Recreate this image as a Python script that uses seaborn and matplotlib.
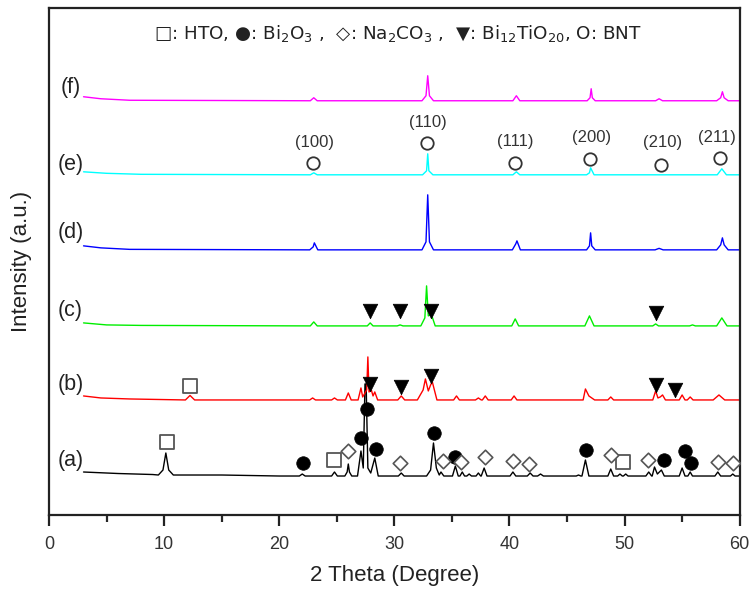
import matplotlib
matplotlib.use("Agg")
import matplotlib.pyplot as plt
import seaborn as sns
import pandas as pd

sns.set_style("ticks")
plt.rcParams['font.family'] = ['Liberation Sans', 'DejaVu Sans']
plt.rcParams['mathtext.fontset'] = 'custom'
plt.rcParams['mathtext.rm'] = 'Liberation Sans'

# ---------------- data (2 theta, relative intensity) ----------------
x_a = [3.0, 6.0, 9.0,
       9.5, 9.9, 10.15, 10.4, 10.8,
       15.0, 20.0,
       21.75, 22.0, 22.25,
       24.55, 24.8, 25.05,
       25.7, 25.9, 26.0, 26.1, 26.3,
       26.8, 27.1, 27.3, 27.45, 27.55, 27.7, 27.95, 28.3, 28.6,
       30.35, 30.6, 30.85,
       32.8, 33.15, 33.4, 33.65, 33.9, 34.05, 34.3,
       35.05, 35.3, 35.55,
       35.7, 35.9, 36.1,
       36.3, 36.5, 36.7,
       37.1, 37.3, 37.5,
       37.55, 37.8, 38.05,
       40.05, 40.3, 40.55,
       41.55, 41.8, 42.05,
       42.45, 42.7, 42.95,
       45.8, 46.0, 46.2,
       46.3, 46.6, 46.9,
       48.55, 48.8, 49.05,
       49.4, 49.6, 49.8,
       49.9, 50.1, 50.3,
       51.85, 52.1, 52.35,
       52.4, 52.6, 52.85, 53.2, 53.45,
       54.75, 55.0, 55.25,
       55.5, 55.7, 55.9,
       57.85, 58.1, 58.35,
       59.2, 59.4, 59.6,
       60.0]
y_a = [4, 2.5, 1.5,
       1, 6, 23, 6, 1,
       1, 0,
       0, 2, 0,
       0, 4, 0,
       0, 4, 12, 4, 0,
       0, 25, 8, 92, 92, 8, 3, 18, 0,
       0, 3, 0,
       0, 6, 33, 8, 1, 4, 0,
       0, 10, 0,
       0, 4, 0,
       0, 2, 0,
       0, 3, 0,
       0, 8, 0,
       0, 4, 0,
       0, 3, 0,
       0, 2, 0,
       0, 1, 0,
       0, 16, 0,
       0, 7, 0,
       0, 2, 0,
       0, 2, 0,
       0, 4, 0,
       0, 9, 2, 6, 0,
       0, 8, 0,
       0, 4, 0,
       0, 4, 0,
       0, 2, 0,
       0]

x_b = [3.0, 4.5, 7.0,
       11.85, 12.25, 12.65,
       22.65, 22.9, 23.15,
       24.55, 24.8, 25.05,
       25.75, 26.0, 26.25,
       26.85, 27.1, 27.25, 27.6, 27.7, 27.8, 28.0, 28.15, 28.3, 28.55,
       30.3, 30.6, 30.9,
       32.0, 32.5, 32.7, 32.95, 33.15, 33.3, 33.7,
       35.15, 35.4, 35.65,
       37.05, 37.3, 37.55,
       37.65, 37.9, 38.15,
       40.15, 40.4, 40.65,
       46.4, 46.6, 46.9, 47.4,
       48.55, 48.8, 49.05,
       52.45, 52.7, 52.9, 53.1, 53.3, 53.55,
       54.75, 55.0, 55.25,
       55.45, 55.7, 55.95,
       57.7, 58.2, 58.7,
       60.0]
y_b = [4, 2, 1,
       0, 4.5, 0,
       0, 2, 0,
       0, 2, 0,
       0, 7, 0,
       0, 12, 3, 10, 43, 8, 10, 4, 8, 0,
       0, 4, 0,
       0, 10, 21, 9, 15, 18, 0,
       0, 4, 0,
       0, 2, 0,
       0, 4, 0,
       0, 4, 0,
       0, 11, 4, 0,
       0, 3, 0,
       0, 9, 2, 3, 5, 0,
       0, 5, 0,
       0, 3, 0,
       0, 5, 0,
       0]

x_c = [3.0, 5.0, 8.0, 22.7, 23.0, 23.3, 27.65, 27.9, 28.15, 30.25, 30.5, 30.75,
       32.3, 32.65, 32.8, 32.95, 33.2, 33.55, 40.2, 40.5, 40.8, 46.55, 46.95, 47.35,
       52.45, 52.7, 52.95, 55.65, 55.9, 56.15, 58.0, 58.45, 58.9, 60.0]
y_c = [3, 1, 0.5, 0, 4, 0, 0, 3, 0, 0, 1, 0,
       0, 8, 40, 10, 12, 0, 0, 7, 0, 0, 10, 0,
       0, 2, 0, 0, 1, 0, 0, 8, 0, 0]

x_d = [3.0, 4.5, 7.0, 22.65, 22.95, 23.05, 23.35, 32.4, 32.75, 32.9, 33.05, 33.4,
       40.25, 40.55, 40.65, 40.95, 46.7, 46.95, 47.05, 47.15, 47.45, 52.65, 53.0, 53.35,
       58.0, 58.35, 58.5, 58.65, 59.0, 60.0]
y_d = [4, 2, 0.5, 0, 3, 7, 0, 0, 8, 55, 8, 0,
       0, 6, 9, 0, 0, 4, 17, 4, 0, 0, 1.5, 0,
       0, 5, 12, 5, 0, 0]

x_e = [3.0, 5.0, 8.0, 22.7, 23.0, 23.3, 32.45, 32.8, 32.9, 33.0, 33.35,
       40.3, 40.6, 40.9, 46.7, 46.95, 47.05, 47.35, 58.05, 58.45, 58.85, 60.0]
y_e = [3, 1.5, 0.5, 0, 2, 0, 0, 4, 21, 4, 0,
       0, 3, 0, 0, 2, 7, 0, 0, 6, 0, 0]

x_f = [3.0, 4.5, 7.0, 22.7, 23.0, 23.3, 32.4, 32.75, 32.9, 33.05, 33.4,
       40.3, 40.6, 40.9, 46.75, 47.0, 47.1, 47.2, 47.45, 52.7, 53.0, 53.3,
       58.0, 58.35, 58.5, 58.65, 59.0, 60.0]
y_f = [4, 2, 0.5, 0, 3, 0, 0, 5, 25, 5, 0,
       0, 5, 0, 0, 3, 12, 3, 0, 0, 2, 0,
       0, 3, 9, 3, 0, 0]

sample_labels = ["(a)", "(b)", "(c)", "(d)", "(e)", "(f)"]
colors = ["#000000", "#FF0000", "#00EE00", "#0000FF", "#00FFFF", "#FF00FF"]

# phase markers: 2 theta positions per phase
hto_x = [10.23, 24.78, 49.85, 12.22]
hto_y = [73, 55, 53, 129]
bi2o3_x = [22.03, 27.10, 27.63, 28.41, 33.48, 35.26, 46.67, 53.39, 55.22, 55.80]
bi2o3_y = [52, 77, 106, 66, 82, 58, 65, 55, 64, 52]
na2co3_x = [25.94, 30.50, 34.26, 35.80, 37.89, 40.35, 41.74, 48.84, 52.03, 58.11, 59.42]
na2co3_y = [64, 52, 54, 53, 58, 54, 51, 60, 55, 53, 52]
bi12_x = [27.91, 30.58, 33.19, 52.76, 54.35, 27.91, 30.50, 33.22, 52.70]
bi12_y = [131, 128, 139, 130, 125, 204, 204, 204, 202]
bnt_x = [22.96, 32.87, 40.52, 47.04, 53.13, 58.26]
bnt_y = [352, 372, 352, 356, 350, 357]
bnt_hkl = ["(100)", "(110)", "(111)", "(200)", "(210)", "(211)"]
bnt_hkl_x = [23.1, 32.95, 40.5, 47.1, 53.3, 58.0]
bnt_hkl_y = [372, 392, 373, 377, 372, 377]

# ---------------- layout ----------------
offsets = [39, 115, 189, 265, 340, 414]
label_y = [55, 130, 204, 282, 350, 427]

fig = plt.figure(figsize=(7.54, 5.92), dpi=100)
ax = fig.add_axes([0.065, 0.130, 0.916, 0.857])

traces = [(x_a, y_a), (x_b, y_b), (x_c, y_c), (x_d, y_d), (x_e, y_e), (x_f, y_f)]
for (xs, ys), off, col in zip(traces, offsets, colors):
    df = pd.DataFrame({"x": xs, "y": [v + off for v in ys]})
    sns.lineplot(data=df, x="x", y="y", ax=ax, color=col, lw=1.0,
                 estimator=None, sort=False)

for lab, ly in zip(sample_labels, label_y):
    ax.text(1.85, ly, lab, ha="center", va="center", fontsize=15.5, color="#222222")

ms = 95
edge = "#555555"
sns.scatterplot(x=hto_x, y=hto_y, ax=ax, marker="s", s=ms, facecolor="white",
                edgecolor=edge, linewidth=1.3, zorder=5)
sns.scatterplot(x=bi2o3_x, y=bi2o3_y, ax=ax, marker="o", s=ms, color="black",
                edgecolor="black", linewidth=0.5, zorder=5)
sns.scatterplot(x=na2co3_x, y=na2co3_y, ax=ax, marker="D", s=55, facecolor="white",
                edgecolor=edge, linewidth=1.2, zorder=5)
sns.scatterplot(x=bi12_x, y=bi12_y, ax=ax, marker="v", s=110, color="black",
                edgecolor="black", linewidth=0.5, zorder=5)
sns.scatterplot(x=bnt_x, y=bnt_y, ax=ax, marker="o", s=80, facecolor="white",
                edgecolor="#333333", linewidth=1.3, zorder=5)
for t, tx, ty in zip(bnt_hkl, bnt_hkl_x, bnt_hkl_y):
    ax.text(tx, ty, t, ha="center", va="center", fontsize=12, color="#333333")

legend_txt = (u"\u25A1: HTO, \u25CF: Bi$_2$O$_3$ ,  \u25C7: "
              u"Na$_2$CO$_3$ ,  \u25BC: Bi$_{12}$TiO$_{20}$, O: BNT")
with plt.rc_context({'mathtext.fontset': 'dejavusans'}):
    ax.text(0.505, 0.949, legend_txt, transform=ax.transAxes, ha="center", va="center",
            fontsize=13.2, color="#222222", family=["DejaVu Sans"])

ax.set_xlim(0, 60)
ax.set_ylim(0, 507)
ax.set_yticks([])
ax.set_xticks(range(0, 61, 10))
ax.set_xticks(range(5, 60, 10), minor=True)
ax.tick_params(axis="x", which="major", length=8, width=1.6, direction="out",
               labelsize=13, pad=7, colors="#222222")
ax.tick_params(axis="x", which="minor", length=5, width=1.6, direction="out")
ax.tick_params(axis="x", labelcolor="#333333")
for s in ax.spines.values():
    s.set_visible(True)
    s.set_linewidth(1.6)
    s.set_color("#222222")
ax.set_xlabel("2 Theta (Degree)", fontsize=16, labelpad=9, color="#222222")
ax.set_ylabel("Intensity (a.u.)", fontsize=16, labelpad=12, color="#222222")

fig.savefig("out.png", dpi=100)
